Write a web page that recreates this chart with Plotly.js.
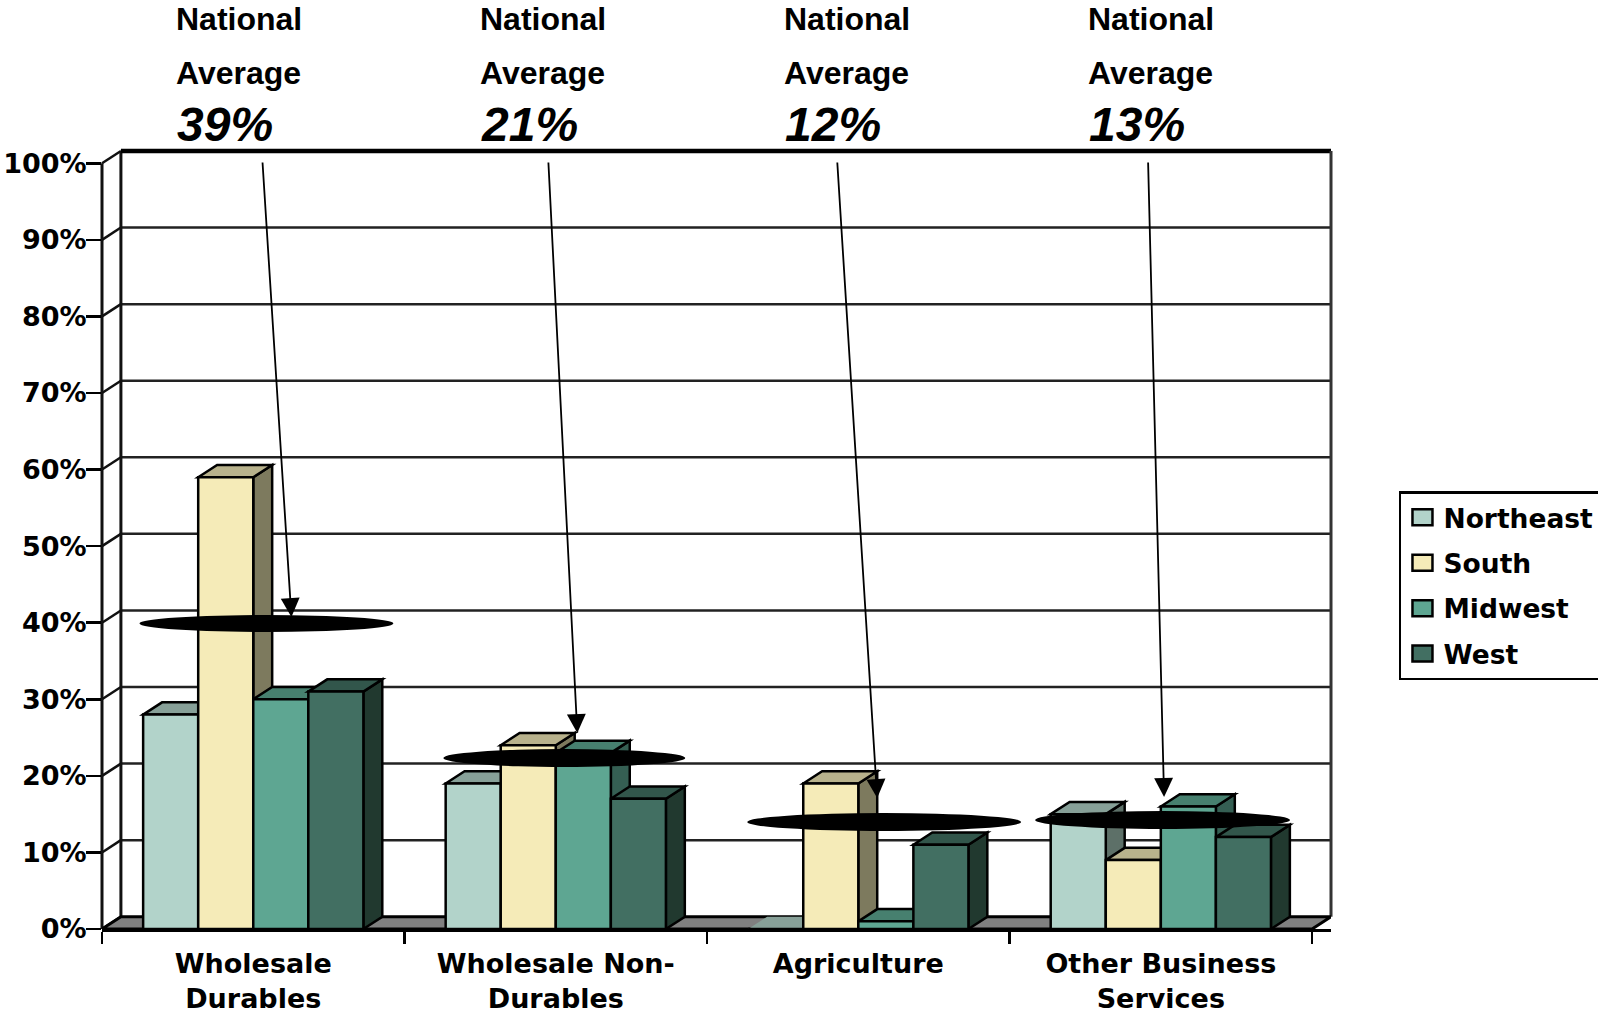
<!DOCTYPE html>
<html>
<head>
<meta charset="utf-8">
<script src="https://cdn.plot.ly/plotly-3.0.1.min.js"></script>
<style>
html,body{margin:0;padding:0;background:#fff;overflow:hidden}
.legendpoints path{d:path("M10,8H-10V-8H10Z")}
</style>
</head>
<body>
<div id="chart" style="width:1598px;height:1014px"></div>
<script>
// ---- data ----
const categories = ['Wholesale<br>Durables', 'Wholesale Non-<br>Durables', 'Agriculture', 'Other Business<br>Services'];
const seriesNames = ['Northeast', 'South', 'Midwest', 'West'];
const northeast = [28, 19, 0, 15];
const south = [59, 24, 19, 9];
const midwest = [30, 23, 1, 16];
const west = [31, 17, 11, 12];
const nationalAverages = ['39%', '21%', '12%', '13%'];
const yTicks = [0, 10, 20, 30, 40, 50, 60, 70, 80, 90, 100];
const yTickLabels = ['0%', '10%', '20%', '30%', '40%', '50%', '60%', '70%', '80%', '90%', '100%'];

// ---- styling and geometry ----
const seriesValues = [northeast, south, midwest, west];
const frontColors = ['#B2D3CA', '#F5EBB8', '#5EA692', '#426F62'];
const topColors = ['#87A098', '#B8B28C', '#47806F', '#32564B'];
const sideColors = ['#5D7068', '#7D7A5E', '#355F53', '#21392F'];
const PL = 101.5, PR = 1331, PT = 151, PB = 929;
const DX = 0.0625, DY = 1.6;              // oblique depth in axis units
const XMAX = 4 + DX, YMAX = 100 + DY;
const BARGAP = 0.272, BARW = (1 - BARGAP) / 4;
const px2x = p => (p - PL) / (PR - PL) * XMAX;
const px2y = p => (PB - p) / (PB - PT) * YMAX;
const paperX = p => (p - PL) / (PR - PL);
const paperY = p => (PB - p) / (PB - PT);

const shapes = [];
const wallLine = (x0, y0, x1, y1, width, color) => shapes.push({
  type: 'line', xref: 'paper', yref: 'paper', layer: 'below',
  x0: x0 / XMAX, y0: y0 / YMAX, x1: x1 / XMAX, y1: y1 / YMAX,
  line: {color: color || '#111', width: width}
});
yTicks.forEach(v => {
  if (v > 0 && v < 100) wallLine(DX, v + DY, XMAX, v + DY, 2.5, '#222');
  wallLine(0, v, DX, v + DY, 2.5);
});
wallLine(0, 0, 0, 100, 3);
wallLine(DX, 0 + DY, DX, 100 + DY, 3);
wallLine(DX, 100 + DY, XMAX, 100 + DY, 4.5, '#000');
wallLine(XMAX, DY, XMAX, 100 + DY, 3, '#333');

const poly = (pts, fill, lw) => shapes.push({
  type: 'path', xref: 'x', yref: 'y', layer: 'between',
  path: 'M' + pts.map(p => p[0] + ' ' + p[1]).join('L') + 'Z',
  fillcolor: fill, line: {color: '#000', width: lw}
});
// floor
poly([[0, 0], [DX, DY], [XMAX, DY], [4, 0]], '#808080', 3);
// oblique tops and sides of each bar, left to right
categories.forEach((c, ci) => {
  seriesValues.forEach((vals, si) => {
    const v = vals[ci];
    const x0 = ci + 0.5 - 2 * BARW + si * BARW, x1 = x0 + BARW;
    if (v > 0) {
      poly([[x1, 0], [x1 + DX, DY], [x1 + DX, v + DY], [x1, v]], sideColors[si], 2.5);
      poly([[x0, v], [x0 + DX, v + DY], [x1 + DX, v + DY], [x1, v]], topColors[si], 2.5);
    } else {
      poly([[x0, 0], [x0 + DX, DY], [x1 + DX, DY], [x1, 0]], topColors[si], 0);
    }
  });
});
// national-average discs (pixel extents measured on the reference)
const discLeft = [139, 443, 747, 1035], discRight = [393, 685, 1021, 1290];
const discTop = [615, 749, 813, 811], discBottom = [632, 767, 831, 829];
categories.forEach((c, i) => shapes.push({
  type: 'circle', xref: 'x', yref: 'y', layer: 'above',
  x0: px2x(discLeft[i]), x1: px2x(discRight[i]), y0: px2y(discBottom[i]), y1: px2y(discTop[i]),
  fillcolor: '#000', line: {width: 0}
}));

// text over the plot and leader arrows
const annotations = [];
const headLeft = [175, 479, 783, 1087];
const arrowFromX = [262, 548, 837, 1148], arrowFromY = [161, 161, 161, 161];
const arrowToX = [291, 577, 877, 1164], arrowToY = [617, 733, 798, 797];
categories.forEach((c, i) => {
  const txt = (s, y, font, dx) => annotations.push({
    xref: 'paper', yref: 'paper', x: paperX(headLeft[i] + dx), y: paperY(y),
    xanchor: 'left', yanchor: 'middle', text: s, showarrow: false, font: font, borderpad: 0
  });
  const bold = {family: '"Liberation Sans", Arial, sans-serif', size: 32, color: '#000', weight: 700};
  txt('National', 19, bold, 0);
  txt('Average', 73, bold, 0);
  txt('<i>' + nationalAverages[i] + '</i>', 124, {family: '"Liberation Sans", Arial, sans-serif', size: 48, color: '#000', weight: 700}, 1);
  annotations.push({
    xref: 'x', yref: 'y', axref: 'x', ayref: 'y', text: '',
    x: px2x(arrowToX[i]), y: px2y(arrowToY[i]), ax: px2x(arrowFromX[i]), ay: px2y(arrowFromY[i]),
    showarrow: true, arrowhead: 2, arrowsize: 2.1, arrowwidth: 1.8, arrowcolor: '#000'
  });
});

const labelFont = {family: '"DejaVu Sans", sans-serif', size: 27, color: '#000', weight: 700};
const legendFont = {family: '"DejaVu Sans", sans-serif', size: 26.5, color: '#000', weight: 700};
const centers = categories.map((c, i) => i + 0.5);
const traces = seriesNames.map((name, si) => ({
  type: 'bar', name: name, x: centers, y: seriesValues[si], legendgroup: name,
  marker: {color: frontColors[si], line: {color: '#000', width: 2.5}},
  hoverinfo: 'skip'
}));

const layout = {
  width: 1598, height: 1014, autosize: false,
  margin: {l: PL, r: 1598 - PR, t: PT, b: 1014 - PB, autoexpand: false},
  paper_bgcolor: '#fff', plot_bgcolor: '#fff',
  barmode: 'group', bargap: BARGAP, bargroupgap: 0,
  font: labelFont,
  xaxis: {
    range: [0, XMAX], showgrid: false, zeroline: false, showline: true, linecolor: '#000', linewidth: 2.5,
    tickmode: 'array', tickvals: centers, ticktext: categories, ticks: '', tickfont: labelFont, ticklabelstandoff: 9,
    minor: {tickmode: 'array', tickvals: [0, 1, 2, 3, 4], ticks: 'outside', ticklen: 12, tickwidth: 2.5, tickcolor: '#000', showgrid: false}
  },
  yaxis: {
    range: [0, YMAX], showgrid: false, zeroline: false, showline: false,
    tickmode: 'array', tickvals: yTicks, ticktext: yTickLabels, ticks: 'outside', ticklen: 15, tickwidth: 2.5, tickcolor: '#000',
    tickfont: labelFont, ticklabelstandoff: -6
  },
  legend: {
    x: paperX(1399), xanchor: 'left', y: paperY(491), yanchor: 'top',
    bordercolor: '#000', borderwidth: 2.5, bgcolor: '#fff', font: legendFont,
    itemwidth: 32, tracegroupgap: 8, itemclick: false, itemdoubleclick: false, traceorder: 'grouped'
  },
  shapes: shapes,
  annotations: annotations,
  showlegend: true
};
Plotly.newPlot('chart', traces, layout, {displayModeBar: false, staticPlot: true});
</script>
</body>
</html>
